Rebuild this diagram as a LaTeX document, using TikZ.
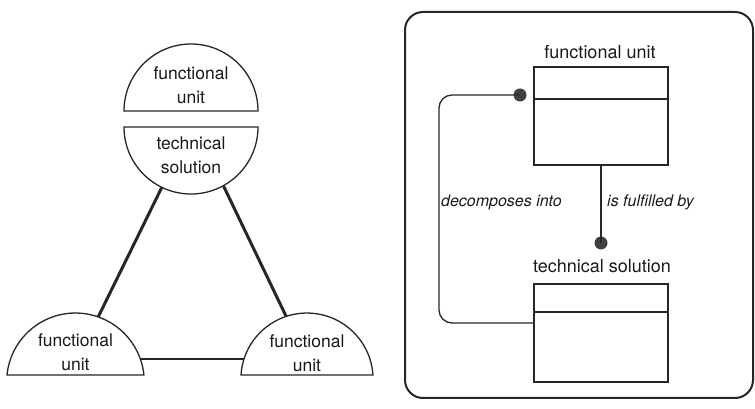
\documentclass[tikz,border=0pt]{standalone}
\usepackage{fontspec}
\setmainfont{TeX Gyre Heros}
\usetikzlibrary{calc}
\begin{document}
\begin{tikzpicture}[x=1pt,y=1pt,
  ink/.style={draw=black!85},
  dome/.style={ink, line width=1.3pt, fill=white},
  leg/.style={ink, line width=3pt},
  domelabel/.style={align=center, font=\fontsize{17.5}{24}\selectfont, text=black!90, inner sep=0pt},
  classbox/.style={ink, line width=2pt, minimum width=134, minimum height=98, inner sep=0pt},
  divider/.style={ink, line width=1.3pt},
  classtitle/.style={font=\fontsize{18}{22}\selectfont, text=black!90, inner sep=0pt},
  assoc/.style={ink, line width=1.3pt},
  roledot/.style={circle, fill=black!75, minimum size=13, inner sep=0pt},
  rolelabel/.style={font=\itshape\fontsize{16}{20}\selectfont, text=black!90, inner sep=0pt, anchor=west},
  frame/.style={ink, line width=2pt, rounded corners=18}
]
\useasboundingbox (0,0) rectangle (755,409);

% ---------- left: the triangle of functional units ----------
% centres of the dome shapes
\coordinate (fuc) at (191,298);
\coordinate (tsc) at (191,282);
\coordinate (blc) at (75.5,27.2);
\coordinate (brc) at (307,29.9);

% legs of the triangle
\coordinate (legLtop) at ($(tsc)+(244.2:67)$);
\coordinate (legLbot) at ($(blc)+(70.7:68.8)$);
\coordinate (legRtop) at ($(tsc)+(298.9:67)$);
\coordinate (legRbot) at ($(brc)+(108.4:66.1)$);
\coordinate (baseL) at (140.4,50);
\coordinate (baseR) at (244,50);
\draw[leg] (legLtop) -- (legLbot);
\draw[leg] (legRtop) -- (legRbot);
\draw[leg, line width=2.5pt] (baseL) -- (baseR);

% upper half: functional unit
\draw[dome] (124,298) arc[start angle=180, end angle=0, radius=67] -- cycle;
% lower half: technical solution
\draw[dome] (124,282) arc[start angle=180, end angle=360, radius=67] -- cycle;
% bottom left functional unit
\draw[dome] (7,34) arc[start angle=174.3, end angle=5.7, radius=68.8] -- cycle;
% bottom right functional unit
\draw[dome] (241,34) arc[start angle=176.4, end angle=3.6, radius=66.1] -- cycle;

\node[domelabel] (tfu) at (191,324) {functional\\unit};
\node[domelabel] (tts) at (191,254) {technical\\solution};
\node[domelabel] (lfu) at (75.5,57) {functional\\unit};
\node[domelabel] (rfu) at (307,56) {functional\\unit};

% ---------- right: class diagram ----------
\draw[frame] (405,11) rectangle (753,397);

\node[classbox] (fu) at (601,293) {};
\draw[divider] ($(fu.north west)+(0,-33)$) -- ($(fu.north east)+(0,-33)$);
\node[classtitle, anchor=base] (fut) at (600,350) {functional unit};

\node[classbox] (ts) at (601,76) {};
\draw[divider] ($(ts.north west)+(0,-29)$) -- ($(ts.north east)+(0,-29)$);
\node[classtitle, anchor=base] (tst) at (602,136) {technical solution};

% fulfilment association
\node[roledot] (dotts) at (601,166) {};
\draw[assoc] (fu.south) -- (dotts.center);
\node[rolelabel] (lfulfil) at (607,207) {is fulfilled by};

% decomposition association
\node[roledot] (dotfu) at (520,314) {};
\coordinate (turnA) at (439,314);
\coordinate (turnB) at (439,86);
\draw[assoc, rounded corners=13] (dotfu.center) -- (turnA) -- (turnB) -- (turnB -| ts.west);
\node[rolelabel] (ldecomp) at (441,207) {decomposes into};
\end{tikzpicture}
\end{document}
